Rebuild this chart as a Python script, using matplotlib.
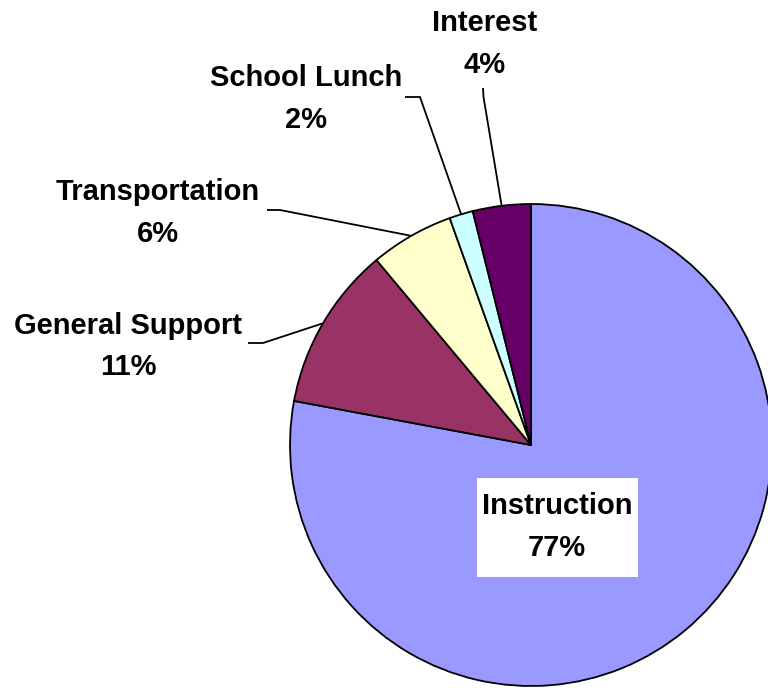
import matplotlib
matplotlib.use("Agg")
import matplotlib.pyplot as plt
from matplotlib.patches import Rectangle
import numpy as np

categories = ["Instruction", "General Support", "Transportation", "School Lunch", "Interest"]
shares = [77.6, 10.95, 5.58, 1.58, 3.87]
pct_labels = ["77%", "11%", "6%", "2%", "4%"]
colors = ["#9999FF", "#993366", "#FFFFCC", "#CCFFFF", "#660066"]

W, H = 768, 688
fig = plt.figure(figsize=(W / 100, H / 100), dpi=100)
ax = fig.add_axes([0, 0, 1, 1])

cx, cy, r = 531, H - 445, 241
wedges, _ = ax.pie(shares, colors=colors, startangle=90, counterclock=False,
                   center=(cx, cy), radius=r, frame=True,
                   wedgeprops=dict(edgecolor="black", linewidth=1.3))
ax.set_xlim(0, W)
ax.set_ylim(0, H)
ax.set_aspect("equal")
ax.axis("off")

font = dict(family=["Liberation Sans", "DejaVu Sans"], weight="bold", fontsize=21)
LS = 1.62

# label centers (pixel coords, y from top) and leader elbows
label_pos = {
    "Instruction": (557, 527),
    "General Support": (128, 346.5),
    "Transportation": (158, 213),
    "School Lunch": (306, 99),
    "Interest": (485, 44),
}
leader = {
    "General Support": [(248, 343), (263, 343)],
    "Transportation": [(267, 210), (280, 210)],
    "School Lunch": [(405, 97), (420, 97)],
    "Interest": [(483, 88), (483.5, 97)],
}

for w, name, pct in zip(wedges, categories, pct_labels):
    x, y = label_pos[name]
    txt = f"{name}\n{pct}"
    if name == "Instruction":
        # white box behind the label
        bx0, bx1, by0, by1 = 477, 638, 478, 577
        ax.add_patch(Rectangle((bx0, H - by1), bx1 - bx0, by1 - by0,
                               facecolor="white", edgecolor="none", zorder=3))
        ax.text(x, H - y, txt, ha="center", va="center", linespacing=LS, zorder=4, **font)
    else:
        ax.text(x, H - y, txt, ha="center", va="center", linespacing=LS, **font)
        mid = np.deg2rad((w.theta1 + w.theta2) / 2)
        ax_pt = (cx + r * np.cos(mid), cy + r * np.sin(mid))
        pts = [(px, H - py) for px, py in leader[name]] + [ax_pt]
        xs, ys = zip(*pts)
        ax.plot(xs, ys, color="black", linewidth=1.3, solid_capstyle="butt")

fig.savefig("out.png", dpi=100, facecolor="white")
